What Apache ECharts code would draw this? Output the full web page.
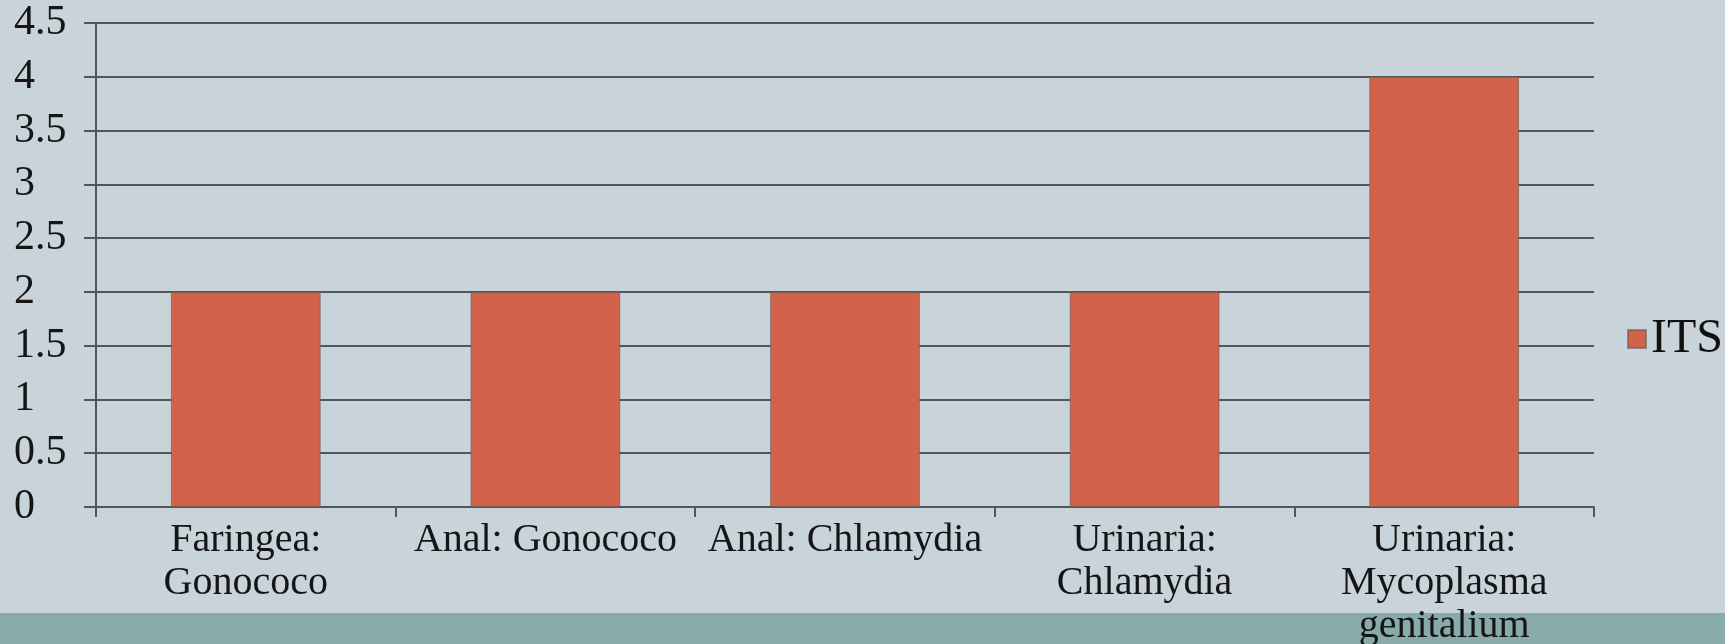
<!DOCTYPE html>
<html>
<head>
<meta charset="utf-8">
<script src="https://cdn.jsdelivr.net/npm/echarts@6/dist/echarts.min.js"></script>
<style>
  html, body { margin: 0; padding: 0; }
  #chart {
    width: 1725px;
    height: 644px;
    background: linear-gradient(to bottom, #c8d3da 0, #c8d3da 613px, #88aba9 613px, #88aba9 644px);
  }
</style>
</head>
<body>
<div id="chart"></div>
<script>
const categories = [
  "Faringea:\nGonococo",
  "Anal: Gonococo",
  "Anal: Chlamydia",
  "Urinaria:\nChlamydia",
  "Urinaria:\nMycoplasma\ngenitalium",
];
const itsValues = [2, 2, 2, 2, 4];
const seriesName = "ITS";

const serif = "'Liberation Serif', 'DejaVu Serif', serif";
const lineColor = "#50575b";

const chart = echarts.init(document.getElementById("chart"), null, { renderer: "canvas" });

chart.setOption({
  backgroundColor: "transparent",
  animation: false,
  // labels hang past the bottom edge on purpose, don't let the grid shrink
  grid: { left: 96, right: 131, top: 23, bottom: 137, outerBoundsMode: "none" },
  legend: {
    data: [seriesName],
    left: 1622,
    top: 309,
    icon: "rect",
    itemWidth: 18,
    itemHeight: 18,
    textStyle: { fontFamily: serif, fontSize: 48, color: "#111", lineHeight: 50 },
  },
  xAxis: {
    type: "category",
    data: categories,
    axisLine: { show: true, lineStyle: { color: lineColor, width: 2 } },
    axisTick: { show: true, length: 10, interval: 0, lineStyle: { color: lineColor, width: 2 } },
    axisLabel: {
      interval: 0,
      margin: 12,
      fontFamily: serif,
      fontSize: 40,
      lineHeight: 43,
      color: "#151515",
      align: "center",
    },
  },
  yAxis: {
    type: "value",
    min: 0,
    max: 4.5,
    interval: 0.5,
    axisLine: { show: true, lineStyle: { color: lineColor, width: 2 } },
    axisTick: { show: true, length: 12, lineStyle: { color: lineColor, width: 2 } },
    splitLine: { show: true, lineStyle: { color: lineColor, width: 2 } },
    axisLabel: {
      margin: 82,
      align: "left",
      fontFamily: serif,
      fontSize: 42,
      color: "#151515",
    },
  },
  series: [
    {
      name: seriesName,
      type: "bar",
      data: itsValues,
      barWidth: "50%",
      itemStyle: { color: "#d2634a", borderColor: "rgba(110,90,85,0.6)", borderWidth: 1 },
    },
  ],
});
</script>
</body>
</html>
